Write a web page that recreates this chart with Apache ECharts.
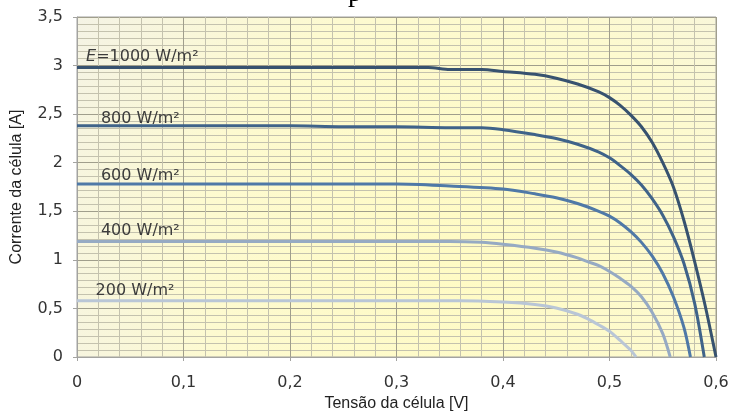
<!DOCTYPE html>
<html>
<head>
<meta charset="utf-8">
<script src="https://cdn.jsdelivr.net/npm/echarts@6/dist/echarts.min.js"></script>
<style>
html,body{margin:0;padding:0;background:#fff}
#chart{width:732px;height:412px}
</style>
</head>
<body>
<div id="chart"></div>
<script>
// curvas I-V da célula para várias irradiâncias
var irradiance = [1000, 800, 600, 400, 200];

var volt1000 = [0, 0.1, 0.2, 0.3, 0.33, 0.35, 0.38, 0.4, 0.43, 0.45, 0.47, 0.49, 0.5, 0.51, 0.52, 0.53, 0.54, 0.55, 0.56, 0.57, 0.58, 0.59, 0.6];
var amp1000  = [2.98, 2.98, 2.98, 2.98, 2.98, 2.96, 2.96, 2.94, 2.91, 2.87, 2.81, 2.73, 2.67, 2.59, 2.49, 2.37, 2.21, 2.0, 1.75, 1.4, 0.98, 0.52, 0];

var volt800 = [0, 0.1, 0.2, 0.25, 0.3, 0.35, 0.38, 0.4, 0.43, 0.45, 0.47, 0.49, 0.5, 0.51, 0.52, 0.53, 0.54, 0.55, 0.56, 0.57, 0.58, 0.589];
var amp800  = [2.38, 2.38, 2.38, 2.37, 2.37, 2.36, 2.36, 2.34, 2.29, 2.25, 2.19, 2.11, 2.05, 1.97, 1.88, 1.77, 1.63, 1.46, 1.24, 0.96, 0.55, 0];

var volt600 = [0, 0.1, 0.2, 0.3, 0.35, 0.4, 0.43, 0.45, 0.47, 0.49, 0.5, 0.51, 0.52, 0.53, 0.54, 0.55, 0.56, 0.57, 0.576];
var amp600  = [1.78, 1.78, 1.78, 1.78, 1.76, 1.73, 1.68, 1.64, 1.58, 1.5, 1.45, 1.38, 1.29, 1.18, 1.04, 0.86, 0.62, 0.3, 0];

var volt400 = [0, 0.1, 0.2, 0.3, 0.35, 0.38, 0.4, 0.43, 0.45, 0.47, 0.48, 0.49, 0.5, 0.51, 0.52, 0.53, 0.54, 0.55, 0.557];
var amp400  = [1.19, 1.19, 1.19, 1.19, 1.19, 1.18, 1.16, 1.12, 1.08, 1.02, 0.98, 0.94, 0.88, 0.81, 0.73, 0.62, 0.46, 0.24, 0];

var volt200 = [0, 0.1, 0.2, 0.3, 0.36, 0.4, 0.43, 0.45, 0.47, 0.48, 0.49, 0.5, 0.51, 0.52, 0.525];
var amp200  = [0.58, 0.58, 0.58, 0.58, 0.58, 0.565, 0.54, 0.505, 0.44, 0.39, 0.33, 0.265, 0.17, 0.07, 0];

var curveLabels = ['{i|E}=1000 W/m²', '800 W/m²', '600 W/m²', '400 W/m²', '200 W/m²'];
var xTicks = ['0', '0,1', '0,2', '0,3', '0,4', '0,5', '0,6'];
var yTicks = ['0', '0,5', '1', '1,5', '2', '2,5', '3', '3,5'];

var volts = [volt1000, volt800, volt600, volt400, volt200];
var amps = [amp1000, amp800, amp600, amp400, amp200];
var colors = ['#37526f', '#3f6389', '#4f79a7', '#96aac3', '#b9c6d6'];
// onde começa cada rótulo (V) e quanto acima da curva (A)
var labelAt = [[0.008, 0.105], [0.022, 0.07], [0.022, 0.08], [0.022, 0.11], [0.017, 0.105]];

function pairs(xs, ys) {
    var out = [];
    for (var i = 0; i < xs.length; i++) out.push([xs[i], ys[i]]);
    return out;
}

var series = [];
irradiance.forEach(function (e, k) {
    series.push({
        name: e + ' W/m²',
        type: 'line',
        data: pairs(volts[k], amps[k]),
        smooth: 0.3,
        showSymbol: false,
        lineStyle: {color: colors[k], width: 3},
        z: 7 - k,
        markPoint: {
            symbol: 'rect',
            symbolSize: 1,
            itemStyle: {color: 'rgba(0,0,0,0)'},
            animation: false,
            data: [{
                coord: [labelAt[k][0], amps[k][0] + labelAt[k][1]],
                label: {
                    show: true,
                    position: 'right',
                    distance: 0,
                    formatter: curveLabels[k],
                    color: '#3c3c3c',
                    fontFamily: 'DejaVu Sans',
                    fontSize: 16,
                    rich: {
                        i: {fontStyle: 'italic', fontFamily: 'DejaVu Sans', fontSize: 16, color: '#3c3c3c'}
                    }
                }
            }]
        }
    });
});

var chart = echarts.init(document.getElementById('chart'));
chart.setOption({
    animation: false,
    graphic: [{
        type: 'text',
        left: 348,
        top: -20,
        style: {text: 'p', font: '28px "Liberation Serif"', fill: '#000'}
    }],
    grid: {
        left: 77, right: 16, top: 17, bottom: 55,
        outerBoundsMode: 'none',
        show: true,
        borderColor: '#a3a3a0',
        borderWidth: 1,
        backgroundColor: new echarts.graphic.RadialGradient(0.6, 0.7, 1.4, [
            {offset: 0, color: '#fffbc4'},
            {offset: 0.55, color: '#fdfad0'},
            {offset: 1, color: '#f3f2e8'}
        ])
    },
    xAxis: {
        type: 'value',
        min: 0, max: 0.6, interval: 0.1,
        name: 'Tensão da célula [V]',
        nameLocation: 'middle',
        nameGap: 39,
        nameTextStyle: {fontFamily: 'Liberation Sans', fontSize: 16, color: '#222'},
        axisLine: {show: true, lineStyle: {color: '#a3a3a0'}},
        axisTick: {show: true, length: 4, lineStyle: {color: '#a3a3a0'}},
        axisLabel: {
            margin: 18,
            fontFamily: 'DejaVu Sans', fontSize: 16, color: '#333',
            formatter: function (v) { return xTicks[Math.round(v * 10)]; }
        },
        splitLine: {show: true, lineStyle: {color: '#a09e8c', width: 1}},
        minorTick: {show: false, splitNumber: 5},
        minorSplitLine: {show: true, lineStyle: {color: '#c4c2ae', width: 1}}
    },
    yAxis: {
        type: 'value',
        min: 0, max: 3.5, interval: 0.5,
        name: 'Corrente da célula [A]',
        nameLocation: 'middle',
        nameGap: 52,
        nameTextStyle: {fontFamily: 'Liberation Sans', fontSize: 16, color: '#222'},
        axisLine: {show: true, lineStyle: {color: '#a3a3a0'}},
        axisTick: {show: true, length: 4, lineStyle: {color: '#a3a3a0'}},
        axisLabel: {
            margin: 14,
            fontFamily: 'DejaVu Sans', fontSize: 16, color: '#333',
            formatter: function (v) { return yTicks[Math.round(v * 2)]; }
        },
        splitLine: {show: true, lineStyle: {color: '#a09e8c', width: 1}},
        minorTick: {show: false, splitNumber: 7},
        minorSplitLine: {show: true, lineStyle: {color: '#c4c2ae', width: 1}}
    },
    series: series
});
</script>
</body>
</html>
